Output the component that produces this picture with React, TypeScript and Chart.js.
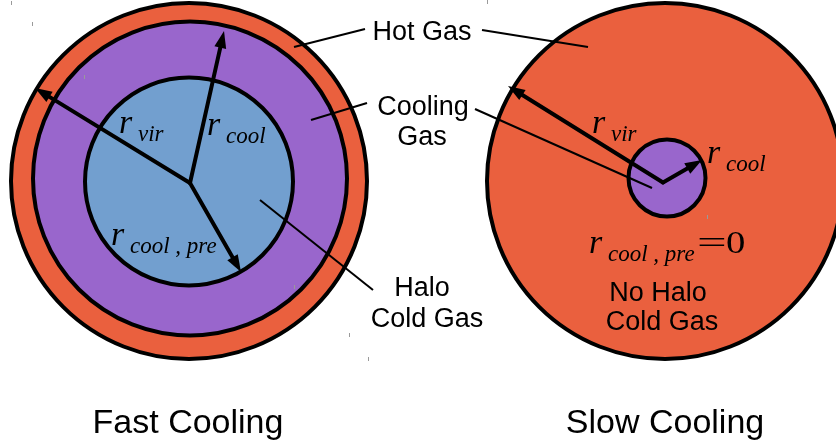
import React, { useEffect, useRef } from "react";
import { Chart, registerables } from "chart.js";

Chart.register(...registerables);

// ---- Diagram data (in scale units: x 0..836, y 0..444 top-down) ----
// Circles (gas regions)
const circleCx = [189, 190, 189, 665, 667];
const circleCy = [181, 178.5, 181.5, 181, 178];
const circleR = [178, 157, 104, 178, 38.5];
const circleKind = ["hot", "cooling", "cold", "hot", "cooling"];

// Radius arrows
const arrowFromX = [190, 190, 190, 663, 663];
const arrowFromY = [183, 183, 183, 182.5, 182.5];
const arrowToX = [35, 224, 241, 508, 702];
const arrowToY = [88, 31, 272, 86, 160];

// Leader lines from annotations
const leaderX1 = [365, 482, 367, 475, 260];
const leaderY1 = [29, 30, 103, 109, 200];
const leaderX2 = [294, 588, 311, 652, 373];
const leaderY2 = [47, 47, 120, 188, 290];

// Annotation labels (centered, baseline)
const labelText = ["Hot Gas", "Cooling", "Gas", "Halo", "Cold Gas", "No Halo", "Cold Gas"];
const labelX = [422, 423, 422, 422, 427, 658, 662];
const labelY = [40, 115, 145, 296, 327, 301, 330];

// Panel titles
const titleText = ["Fast Cooling", "Slow Cooling"];
const titleX = [188, 665];
const titleY = [433, 433];

// Math labels r_{sub}
const mathSub = ["vir", "cool", "cool , pre", "vir", "cool", "cool , pre"];
const mathX = [119, 207, 111, 592, 707, 589];
const mathY = [133, 135, 245, 133, 163, 253];
const eqSignX = 698;
const eqZeroX = 727;
const eqY = 253;

// Small grey specks in the original
const speckX = [11, 32, 84, 294, 349, 368, 487, 707, 627];
const speckY = [1, 22, 75, 285, 333, 357, 0, 215, 134];

const COLORS: Record<string, string> = {
  hot: "#EA603E",
  cooling: "#9966CC",
  cold: "#729FCF",
};

const SERIF = '"Liberation Serif", "Times New Roman", serif';

const diagramPlugin = {
  id: "diagram",
  beforeDatasetsDraw(chart: any) {
    const ctx = chart.ctx as CanvasRenderingContext2D;
    const xs = chart.scales.x;
    const ys = chart.scales.y;
    ctx.save();
    for (let i = 0; i < circleCx.length; i++) {
      const px = xs.getPixelForValue(circleCx[i]);
      const py = ys.getPixelForValue(circleCy[i]);
      const rx = Math.abs(xs.getPixelForValue(circleCx[i] + circleR[i]) - px);
      const ry = Math.abs(ys.getPixelForValue(circleCy[i] + circleR[i]) - py);
      ctx.beginPath();
      ctx.ellipse(px, py, rx, ry, 0, 0, Math.PI * 2);
      ctx.fillStyle = COLORS[circleKind[i]];
      ctx.fill();
      ctx.lineWidth = 4;
      ctx.strokeStyle = "#000";
      ctx.stroke();
    }
    ctx.fillStyle = "#9a9a9a";
    for (let i = 0; i < speckX.length; i++) {
      const px = xs.getPixelForValue(speckX[i]);
      const py = ys.getPixelForValue(speckY[i]);
      ctx.fillRect(Math.round(px), Math.round(py), 1, 4);
    }
    ctx.restore();
  },
  afterDatasetsDraw(chart: any) {
    const ctx = chart.ctx as CanvasRenderingContext2D;
    const xs = chart.scales.x;
    const ys = chart.scales.y;
    ctx.save();
    // arrows
    const headLen = 17;
    const headHalf = 6;
    for (let i = 0; i < arrowFromX.length; i++) {
      const x0 = xs.getPixelForValue(arrowFromX[i]);
      const y0 = ys.getPixelForValue(arrowFromY[i]);
      const x1 = xs.getPixelForValue(arrowToX[i]);
      const y1 = ys.getPixelForValue(arrowToY[i]);
      const dx = x1 - x0;
      const dy = y1 - y0;
      const len = Math.hypot(dx, dy);
      const ux = dx / len;
      const uy = dy / len;
      const bx = x1 - ux * headLen;
      const by = y1 - uy * headLen;
      ctx.beginPath();
      ctx.moveTo(x0, y0);
      ctx.lineTo(bx + ux * 2, by + uy * 2);
      ctx.lineWidth = 4;
      ctx.lineCap = "round";
      ctx.strokeStyle = "#000";
      ctx.stroke();
      ctx.beginPath();
      ctx.moveTo(x1, y1);
      ctx.lineTo(bx - uy * headHalf, by + ux * headHalf);
      ctx.lineTo(bx + uy * headHalf, by - ux * headHalf);
      ctx.closePath();
      ctx.fillStyle = "#000";
      ctx.fill();
    }
    // annotation labels
    ctx.fillStyle = "#000";
    ctx.textBaseline = "alphabetic";
    ctx.textAlign = "center";
    ctx.font = '27px "Liberation Sans", Arial, sans-serif';
    for (let i = 0; i < labelText.length; i++) {
      ctx.fillText(labelText[i], xs.getPixelForValue(labelX[i]), ys.getPixelForValue(labelY[i]));
    }
    ctx.font = '34px "Liberation Sans", Arial, sans-serif';
    for (let i = 0; i < titleText.length; i++) {
      ctx.fillText(titleText[i], xs.getPixelForValue(titleX[i]), ys.getPixelForValue(titleY[i]));
    }
    // math labels
    ctx.textAlign = "left";
    for (let i = 0; i < mathSub.length; i++) {
      const px = xs.getPixelForValue(mathX[i]);
      const py = ys.getPixelForValue(mathY[i]);
      ctx.font = "italic 34px " + SERIF;
      ctx.fillText("r", px, py);
      ctx.font = "italic 23px " + SERIF;
      ctx.fillText(mathSub[i], px + 19, py + 8);
    }
    // "=0"
    const ey = ys.getPixelForValue(eqY);
    ctx.font = "31px " + SERIF;
    ctx.save();
    ctx.translate(xs.getPixelForValue(eqSignX) - 1, ey);
    ctx.scale(1.7, 1);
    ctx.fillText("=", 0, 0);
    ctx.restore();
    ctx.save();
    ctx.translate(xs.getPixelForValue(eqZeroX) - 1, ey);
    ctx.scale(1.25, 1);
    ctx.fillText("0", 0, 0);
    ctx.restore();
    ctx.restore();
  },
};

export default function App() {
  const ref = useRef<HTMLCanvasElement>(null);
  useEffect(() => {
    document.body.style.margin = "0";
    const canvas = ref.current;
    if (!canvas) return;
    const chart = new Chart(canvas, {
      type: "scatter",
      data: {
        datasets: leaderX1.map((x, i) => ({
          data: [
            { x, y: leaderY1[i] },
            { x: leaderX2[i], y: leaderY2[i] },
          ],
          showLine: true,
          borderColor: "#000",
          borderWidth: 2,
          pointRadius: 0,
          fill: false,
        })),
      },
      options: {
        animation: false,
        responsive: false,
        devicePixelRatio: 1,
        events: [],
        layout: { padding: 0 },
        plugins: { legend: { display: false }, tooltip: { enabled: false } },
        scales: {
          x: { type: "linear", min: 0, max: 836, display: false },
          y: { type: "linear", min: 0, max: 444, reverse: true, display: false },
        },
      },
      plugins: [diagramPlugin],
    } as any);
    return () => chart.destroy();
  }, []);
  return (
    <div style={{ position: "fixed", left: 0, top: 0, width: 836, height: 444, background: "#fff" }}>
      <canvas ref={ref} width={836} height={444} style={{ display: "block" }} />
    </div>
  );
}
